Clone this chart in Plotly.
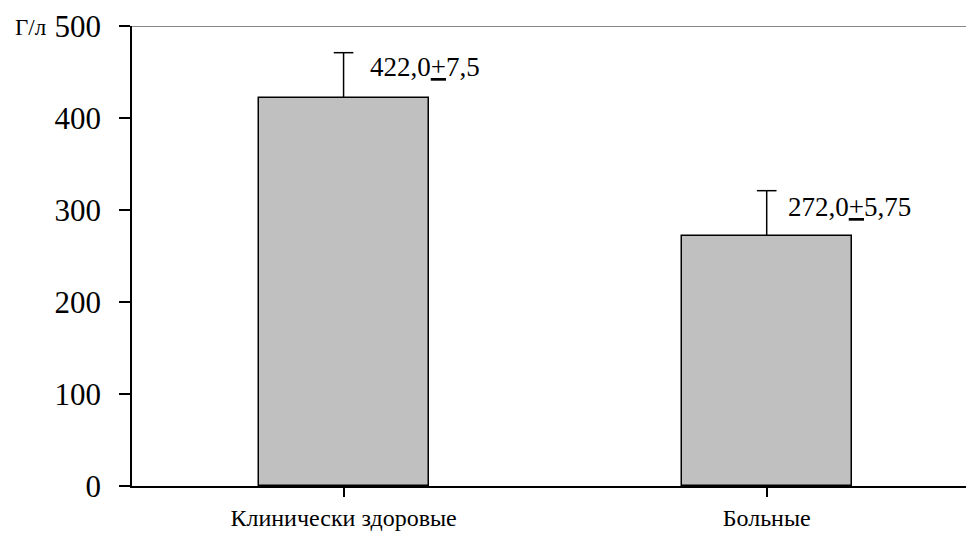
import plotly.graph_objects as go

categories = ["Клинически здоровые", "Больные"]
values = [422.0, 272.0]
errors_plus = [49, 49]
value_labels = ["422,0<span style=\"text-decoration:underline\">+</span>7,5",
                "272,0<span style=\"text-decoration:underline\">+</span>5,75"]
y_ticks = [0, 100, 200, 300, 400, 500]
y_unit = "Г/л"

serif = "'Times New Roman', 'Liberation Serif', 'DejaVu Serif', serif"
xpos = list(range(len(categories)))

fig = go.Figure()
fig.add_trace(go.Bar(
    x=xpos, y=values, width=0.402,
    marker=dict(color="#C0C0C0", line=dict(color="black", width=1.5)),
    error_y=dict(type="data", array=errors_plus, arrayminus=[0] * len(values), symmetric=False,
                 color="black", thickness=1.5, width=0),
))
# caps of the upward error bars
fig.add_trace(go.Scatter(
    x=xpos, y=[v + e for v, e in zip(values, errors_plus)], mode="markers",
    marker=dict(symbol="line-ew", size=14, line=dict(color="black", width=1.5)),
    hoverinfo="skip",
))

label_dx = [0.058, 0.046]
label_dy = [33, 31]
for i, (v, lab) in enumerate(zip(values, value_labels)):
    fig.add_annotation(x=i + label_dx[i], y=v + label_dy[i], text=lab, showarrow=False,
                       xanchor="left", yanchor="middle",
                       font=dict(family=serif, size=27, color="black"))

fig.add_annotation(x=0, y=500, xref="paper", yref="y", text=y_unit, showarrow=False,
                   xanchor="right", yanchor="middle", xshift=-84, yshift=-1,
                   font=dict(family=serif, size=23, color="black"))

fig.add_shape(type="line", xref="paper", yref="y", x0=0, x1=1, y0=500, y1=500,
              line=dict(color="#888888", width=2))

fig.update_layout(
    width=966, height=535,
    margin=dict(l=132, r=0, t=26, b=49, autoexpand=False),
    paper_bgcolor="white", plot_bgcolor="white",
    showlegend=False,
    bargap=0,
    font=dict(family=serif),
)
fig.update_xaxes(
    range=[-0.5, 1.471],
    tickmode="array", tickvals=xpos, ticktext=categories,
    tickson="boundaries",
    showline=True, linecolor="black", linewidth=1.5,
    ticks="outside", ticklen=9, tickcolor="black", tickwidth=1.5,
    showgrid=False, zeroline=False, automargin=False,
    tickfont=dict(family=serif, size=24, color="black"),
    ticklabelstandoff=0,
)
fig.update_yaxes(
    range=[0, 500],
    tickmode="array", tickvals=y_ticks,
    showline=True, linecolor="black", linewidth=1.5,
    ticks="outside", ticklen=11, tickcolor="black", tickwidth=1.5,
    showgrid=False, zeroline=False, automargin=False,
    tickfont=dict(family=serif, size=31, color="black"),
    ticklabelstandoff=12,
)

fig.write_html("out.html", config={"displayModeBar": False},
               post_script="document.body.style.margin='0';document.body.style.overflow='hidden';")
